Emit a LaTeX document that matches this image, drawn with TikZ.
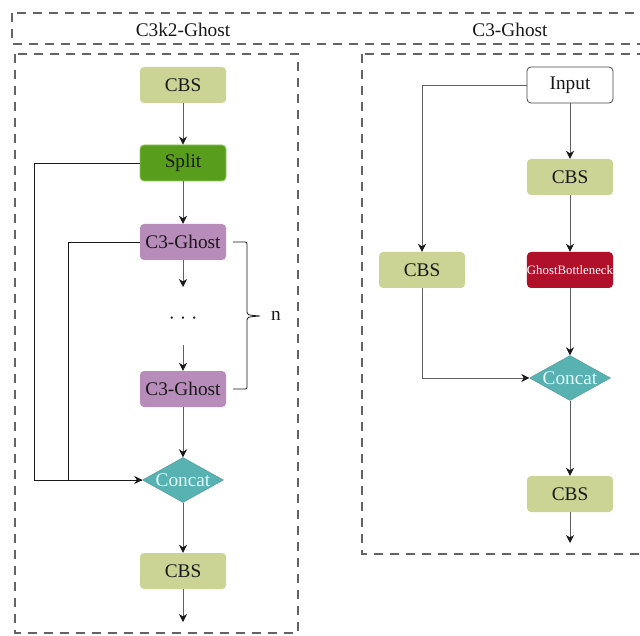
\documentclass[tikz,border=0pt]{standalone}
\usepackage{fontspec}
\setmainfont{Liberation Serif}
\usetikzlibrary{shapes.geometric,arrows.meta,calc}

\definecolor{cbsfill}{RGB}{203,212,148}
\definecolor{splitfill}{RGB}{88,158,28}
\definecolor{splitline}{RGB}{150,200,90}
\definecolor{ghostfill}{RGB}{184,140,186}
\definecolor{catfill}{RGB}{88,178,178}
\definecolor{cattext}{RGB}{225,250,255}
\definecolor{gbfill}{RGB}{176,16,42}
\definecolor{frame}{RGB}{100,100,100}
\definecolor{link}{RGB}{95,95,95}
\definecolor{ink}{RGB}{25,25,25}

\begin{document}
\begin{tikzpicture}[x=1pt,y=-1pt,
  box/.style={rectangle, rounded corners=4pt, minimum width=86pt, minimum height=36pt,
    inner sep=0pt, text=ink, font=\fontsize{19.3}{22}\selectfont},
  cbsbox/.style={box, fill=cbsfill},
  splitbox/.style={box, fill=splitfill, draw=splitline, line width=0.8pt},
  ghostbox/.style={box, fill=ghostfill},
  inbox/.style={box, fill=white, draw=ink!80, line width=0.8pt},
  gbbox/.style={box, fill=gbfill, text=white, font=\fontsize{12.8}{14}\selectfont},
  catbox/.style={diamond, fill=catfill, draw=catfill!85!black, line width=0.4pt,
    minimum width=81pt, minimum height=45pt, aspect=1.8, inner sep=0pt,
    text=cattext, font=\fontsize{19.3}{22}\selectfont},
  frm/.style={draw=frame, line width=1.1pt, dash pattern=on 9pt off 7pt},
  tip/.style={-{Stealth[length=8pt,width=8pt,inset=2.5pt,color=ink]}},
  flow/.style={draw=link, line width=0.9pt, tip},
  loop/.style={draw=ink, line width=0.9pt},
  title/.style={text=ink, font=\fontsize{19.3}{22}\selectfont}
]
\useasboundingbox (0,0) rectangle (640,636);
\fill[white] (0,0) rectangle (640,636);
\clip (0,0) rectangle (640,636);

% dashed frames
\draw[frm] (12,13) rectangle (660,44);
\draw[frm] (15,54) rectangle (298,633);
\draw[frm] (362,54) rectangle (660,554);

% titles
\node[title] (t1) at (183,30) {C3k2-Ghost};
\node[title] (t2) at (510,30) {C3-Ghost};

% C3k2-Ghost column
\node[cbsbox] (lcbs1) at (183,85) {CBS};
\node[splitbox] (split) at (183,163) {Split};
\node[ghostbox] (cg1) at (183,242) {C3-Ghost};
\node[title, inner sep=0pt] (dots) at (183,321)
  {\textperiodcentered\ \textperiodcentered\ \textperiodcentered};
\node[ghostbox] (cg2) at (183,389) {C3-Ghost};
\node[catbox] (lcat) at (183,480) {Concat};
\node[cbsbox] (lcbs2) at (183,571) {CBS};
\coordinate (g1out) at (183,287);
\coordinate (g2in) at (183,345);
\coordinate (lout) at (183,622);

\draw[flow] (lcbs1) -- (split);
\draw[flow] (split) -- (cg1);
\draw[flow] (cg1) -- (g1out);
\draw[flow] (g2in) -- (cg2);
\draw[flow] (cg2) -- (lcat);
\draw[flow] (lcat) -- (lcbs2);
\draw[flow] (lcbs2) -- (lout);

% skip paths into the left concat
\draw[loop, tip] (split.west) -- ++(-105,0) |- (lcat.west);
\draw[loop] (cg1.west) -- ++(-71,0) |- (lcat.west);

% repeat brace
\draw[ink, line width=0.8pt] (233,242) -- (243,242) .. controls (247,242) .. (247,246)
  -- (247,311) .. controls (247,315) .. (260,316) .. controls (247,317) .. (247,321)
  -- (247,385) .. controls (247,389) .. (243,389) -- (233,389);
\node[title, inner sep=0pt] (n) at (276,316) {n};

% C3-Ghost column
\node[inbox] (input) at (570,85) {Input};
\node[cbsbox] (rcbs1) at (570,177) {CBS};
\node[gbbox] (gb) at (570,270) {GhostBottleneck};
\node[cbsbox] (rcbs0) at (422,270) {CBS};
\node[catbox] (rcat) at (570,378) {Concat};
\node[cbsbox] (rcbs2) at (570,494) {CBS};
\coordinate (rout) at (570,543);

\draw[flow] (input) -- (rcbs1);
\draw[flow] (rcbs1) -- (gb);
\draw[flow] (gb) -- (rcat);
\draw[flow] (rcat) -- (rcbs2);
\draw[flow] (rcbs2) -- (rout);
\draw[flow] (input.west) -| (rcbs0.north);
\draw[flow] (rcbs0.south) |- (rcat.west);
\end{tikzpicture}
\end{document}
